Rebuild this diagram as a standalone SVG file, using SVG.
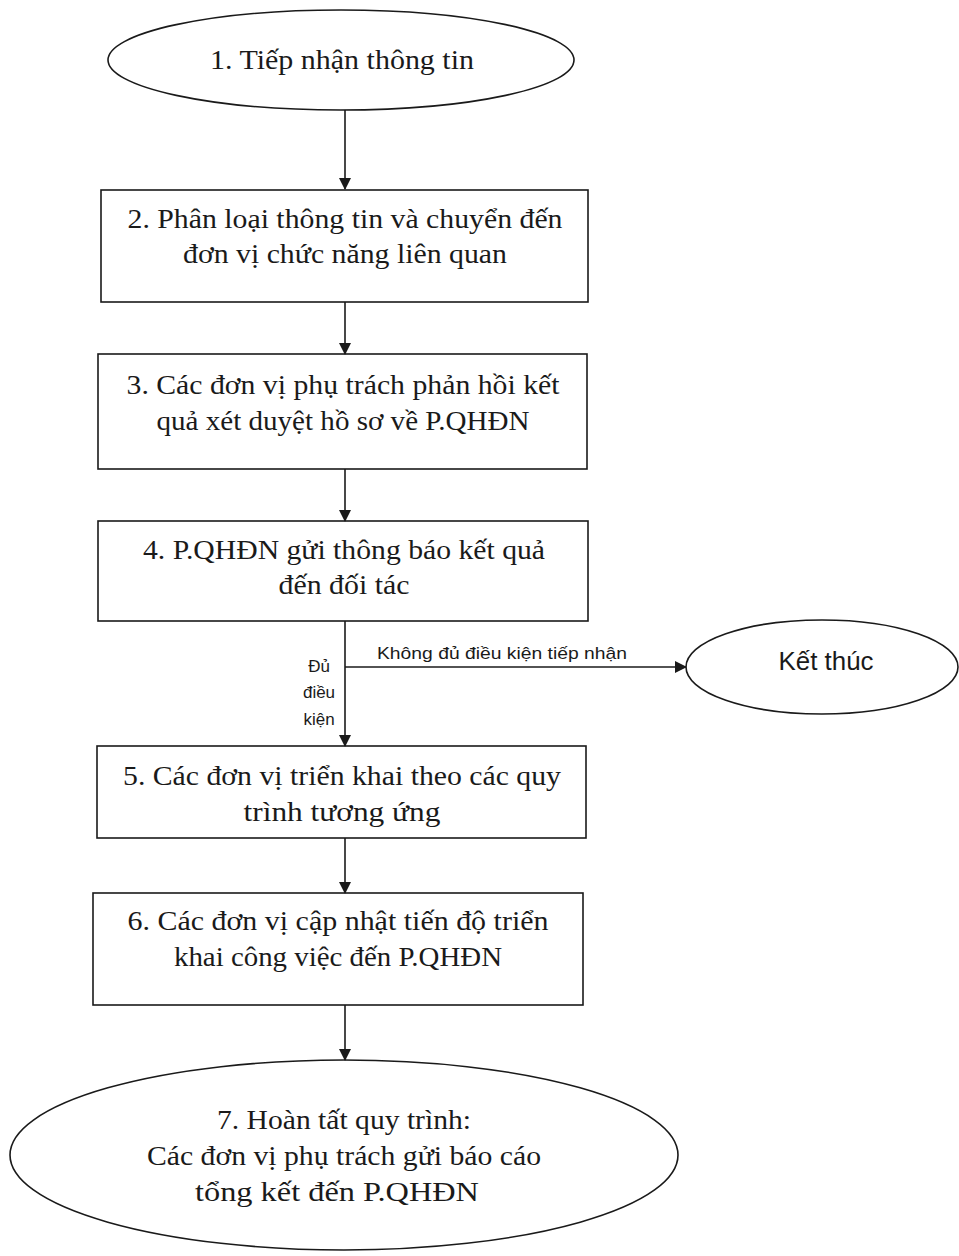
<svg xmlns="http://www.w3.org/2000/svg" width="959" height="1256" viewBox="0 0 959 1256">
<style>
.shape{fill:none;stroke:#1a1a1a;stroke-width:1.6}
.t{font-family:"Liberation Serif","DejaVu Serif",serif;font-size:27px;fill:#1a1a1a;text-anchor:middle}
.s{font-family:"Liberation Sans","DejaVu Sans",sans-serif;fill:#1a1a1a}
.c{stroke:#1a1a1a;stroke-width:1.6;fill:none;marker-end:url(#ah)}
</style>
<defs>
<marker id="ah" markerWidth="12" markerHeight="12" refX="11" refY="6" orient="auto" markerUnits="userSpaceOnUse">
<path d="M0,0 L12,6 L0,12 Z" fill="#1a1a1a"/>
</marker>
</defs>
<rect width="959" height="1256" fill="#ffffff"/>
<g id="connectors">
<line class="c" x1="345" y1="110" x2="345" y2="189"/>
<line class="c" x1="345" y1="302" x2="345" y2="354"/>
<line class="c" x1="345" y1="469" x2="345" y2="521"/>
<line class="c" x1="345" y1="621" x2="345" y2="746"/>
<line class="c" x1="345" y1="667" x2="686" y2="667"/>
<line class="c" x1="345" y1="838" x2="345" y2="893"/>
<line class="c" x1="345" y1="1005" x2="345" y2="1060"/>
<text class="s" x="377" y="659" font-size="17" textLength="250" lengthAdjust="spacingAndGlyphs">Không  đủ điều kiện tiếp nhận</text>
<text class="s" x="319" y="672" font-size="17" text-anchor="middle">Đủ</text>
<text class="s" x="319" y="698" font-size="17" text-anchor="middle">điều</text>
<text class="s" x="319" y="725" font-size="17" text-anchor="middle">kiện</text>
</g>
<g id="n1">
<ellipse class="shape" cx="341" cy="60" rx="233" ry="50"/>
<text class="t" x="342" y="69" textLength="264" lengthAdjust="spacingAndGlyphs">1. Tiếp nhận thông tin</text>
</g>
<g id="n2">
<rect class="shape" x="101" y="190" width="487" height="112"/>
<text class="t" x="345" y="228" textLength="435" lengthAdjust="spacingAndGlyphs">2. Phân loại thông tin và chuyển đến</text>
<text class="t" x="345" y="263" textLength="324" lengthAdjust="spacingAndGlyphs">đơn vị chức năng liên quan</text>
</g>
<g id="n3">
<rect class="shape" x="98" y="354" width="489" height="115"/>
<text class="t" x="343" y="394" textLength="433" lengthAdjust="spacingAndGlyphs">3. Các đơn vị phụ trách phản hồi kết</text>
<text class="t" x="343" y="430" textLength="373" lengthAdjust="spacingAndGlyphs">quả xét duyệt hồ sơ về P.QHĐN</text>
</g>
<g id="n4">
<rect class="shape" x="98" y="521" width="490" height="100"/>
<text class="t" x="344" y="559" textLength="402" lengthAdjust="spacingAndGlyphs">4.  P.QHĐN gửi thông báo kết quả</text>
<text class="t" x="344" y="594" textLength="131" lengthAdjust="spacingAndGlyphs">đến đối tác</text>
</g>
<g id="end">
<ellipse class="shape" cx="822" cy="667" rx="136" ry="47"/>
<text class="s" x="826" y="670" font-size="25" text-anchor="middle" textLength="95" lengthAdjust="spacingAndGlyphs">Kết thúc</text>
</g>
<g id="n5">
<rect class="shape" x="97" y="746" width="489" height="92"/>
<text class="t" x="342" y="785" textLength="438" lengthAdjust="spacingAndGlyphs">5. Các đơn vị triển khai theo các quy</text>
<text class="t" x="342" y="821" textLength="197" lengthAdjust="spacingAndGlyphs">trình tương ứng</text>
</g>
<g id="n6">
<rect class="shape" x="93" y="893" width="490" height="112"/>
<text class="t" x="338" y="930" textLength="421" lengthAdjust="spacingAndGlyphs">6. Các đơn vị cập nhật tiến độ triển</text>
<text class="t" x="338" y="966" textLength="328" lengthAdjust="spacingAndGlyphs">khai công việc đến P.QHĐN</text>
</g>
<g id="n7">
<ellipse class="shape" cx="344" cy="1155" rx="334" ry="95"/>
<text class="t" x="344" y="1129" textLength="254" lengthAdjust="spacingAndGlyphs">7. Hoàn tất quy trình:</text>
<text class="t" x="344" y="1165" textLength="394" lengthAdjust="spacingAndGlyphs">Các đơn vị phụ trách gửi báo cáo</text>
<text class="t" x="337" y="1201" textLength="284" lengthAdjust="spacingAndGlyphs">tổng kết đến P.QHĐN</text>
</g>
</svg>
